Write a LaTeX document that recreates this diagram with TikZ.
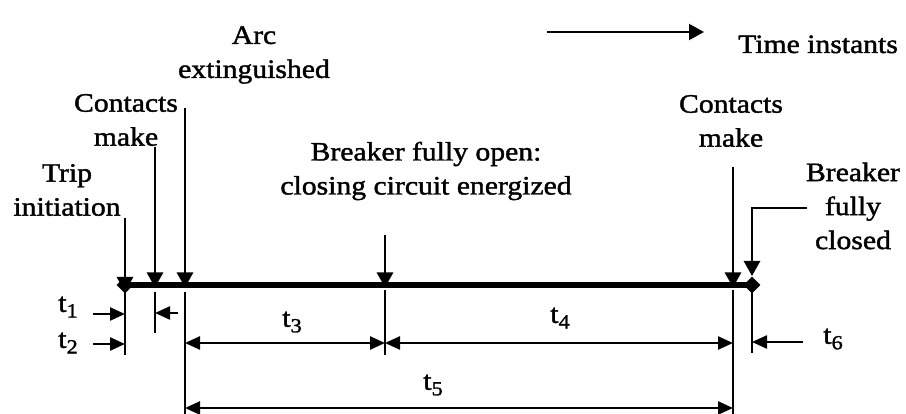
\documentclass[tikz,border=0pt]{standalone}
\usepackage{fontspec}
\setmainfont{Liberation Serif}[FakeStretch=1.12,FakeBold=1.5]
\usetikzlibrary{arrows.meta,shapes.geometric}
\newcommand\tsub[1]{t\raisebox{-0.45ex}{\fontsize{20}{20}\selectfont #1}}

\begin{document}
\begin{tikzpicture}[x=1pt,y=-1pt,
  lbl/.style={font=\fontsize{26.5}{34}\selectfont, align=center, inner sep=0pt},
  tlbl/.style={font=\fontsize{27}{30}\selectfont, inner sep=0pt},
  ptr/.style={line width=2.8pt, -{Triangle[length=15pt,width=16pt]}},
  dimline/.style={line width=2.4pt, {Triangle[length=15pt,width=13pt]}-{Triangle[length=15pt,width=13pt]}},
  oneway/.style={line width=2.4pt, -{Triangle[length=15pt,width=13pt]}},
  ext/.style={line width=2pt},
  axis/.style={line width=5.5pt},
  endmark/.style={diamond, fill=black, inner sep=0pt, minimum size=17pt}]
\useasboundingbox (0,0) rectangle (906,414);

% time instants on the axis
\coordinate (a) at (125,285);
\coordinate (b) at (155,285);
\coordinate (c) at (185,285);
\coordinate (d) at (385,285);
\coordinate (f) at (733,285);
\coordinate (g) at (752,285);

\draw[axis] (a) -- (g);
\node[endmark] (ma) at (a) {};
\node[endmark] (mg) at (g) {};

% legend
\coordinate (lg1) at (547,32);
\coordinate (lg2) at (704,32);
\draw[ptr, line width=2.2pt] (lg1) -- (lg2);
\node[lbl, anchor=base west] (legend) at (738,53) {Time instants};

% event labels
\node[lbl] (trip) at (67,190) {Trip\\initiation};
\node[lbl] (cm1) at (126,120) {Contacts\\make};
\node[lbl] (arc) at (254,55) {Arc\\extinguished};
\node[lbl] (open) at (426,171) {Breaker fully open:\\closing circuit energized};
\node[lbl] (cm2) at (731,121) {Contacts\\make};
\node[lbl] (closed) at (853,206) {Breaker\\fully\\closed};

% event pointers
\coordinate (pa) at (125,218);
\coordinate (pb) at (155,147);
\coordinate (pc) at (185,108);
\coordinate (pd) at (385,235);
\coordinate (pf) at (733,167);
\coordinate (pg) at (807,208);
\coordinate (ga) at (752,276);
\draw[ptr] (pa) -- ([yshift=-7pt]a);
\draw[ptr] (pb) -- ([yshift=-2.5pt]b);
\draw[ptr] (pc) -- ([yshift=-2.5pt]c);
\draw[ptr] (pd) -- ([yshift=-2.5pt]d);
\draw[ptr] (pf) -- ([yshift=-2.5pt]f);
\draw[ptr] (pg) -| (ga);

% extension lines
\coordinate (xa) at (125,355);
\coordinate (xb1) at (155,292);
\coordinate (xb) at (155,333);
\coordinate (xc1) at (185,292);
\coordinate (xc) at (185,414);
\coordinate (xd1) at (385,290);
\coordinate (xd) at (385,355);
\coordinate (xf1) at (733,290);
\coordinate (xf) at (733,414);
\coordinate (xg) at (752,353);
\draw[ext] (a) -- (xa);
\draw[ext] (xb1) -- (xb);
\draw[ext] (xc1) -- (xc);
\draw[ext] (xd1) -- (xd);
\draw[ext] (xf1) -- (xf);
\draw[ext] (g) -- (xg);

% interval dimensions
\coordinate (t1s) at (93,314);   \coordinate (t1e) at (125,314);
\coordinate (t1r) at (178,313);  \coordinate (t1f) at (155,313);
\coordinate (t2s) at (93,344);   \coordinate (t2e) at (125,344);
\coordinate (t3s) at (185,343);  \coordinate (t3e) at (385,343);
\coordinate (t4e) at (733,343);
\coordinate (t5s) at (185,408);  \coordinate (t5e) at (733,408);
\coordinate (t6s) at (803,342);  \coordinate (t6e) at (752,342);
\draw[oneway] (t1s) -- (t1e);
\draw[oneway] (t1r) -- (t1f);
\draw[oneway] (t2s) -- (t2e);
\draw[dimline] (t3s) -- (t3e);
\draw[dimline] (t3e) -- (t4e);
\draw[dimline] (t5s) -- (t5e);
\draw[oneway] (t6s) -- (t6e);

\node[tlbl] (l1) at (68,307) {\tsub{1}};
\node[tlbl] (l2) at (68,343) {\tsub{2}};
\node[tlbl] (l3) at (292,322) {\tsub{3}};
\node[tlbl] (l4) at (560,318) {\tsub{4}};
\node[tlbl] (l5) at (433,385) {\tsub{5}};
\node[tlbl] (l6) at (833,339) {\tsub{6}};
\end{tikzpicture}
\end{document}
